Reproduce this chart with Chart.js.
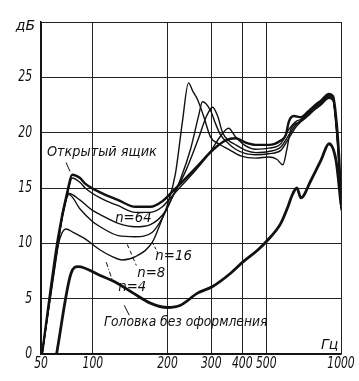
<!DOCTYPE html>
<html>
<head>
<meta charset="utf-8">
<script src="https://cdn.jsdelivr.net/npm/chart.js@4"></script>
<style>body{margin:0;background:#fff}</style>
</head>
<body>
<canvas id="c" width="359" height="381"></canvas>
<script>
// x axis: Hz (log), y axis: dB
const xTickValues = [61.8, 100, 200, 300, 400, 500, 1000];
const xTickLabels = ['50', '100', '200', '300', '400', '500', '1000'];
const yTickValues = [0, 5, 10, 15, 20, 25, 30];
const yTickLabels = ['0', '5', '10', '15', '20', '25', 'дБ'];

// Открытый ящик
const freqOpen = [62.4, 72.4, 79.5, 82.5, 88.8, 93.1, 107.0, 126.6, 148.3, 170.5, 190.6, 205.4, 225.4, 259.3, 306.5, 342.8, 376.2, 412.9, 453.2, 511.6, 571.9, 599.4, 616.4, 645.7, 689.2, 735.6, 778.0, 830.2, 894.4, 928.3, 954.6, 981.6, 1000];
const dbOpen   = [0, 10.5, 15.0, 16.2, 15.9, 15.4, 14.6, 13.9, 13.3, 13.3, 13.8, 14.5, 15.4, 16.8, 18.5, 19.3, 19.5, 19.1, 18.9, 18.9, 19.3, 19.8, 21.0, 21.5, 21.4, 21.9, 22.4, 22.9, 23.5, 23.3, 21.5, 18.0, 14.0];

// n = 64
const freqN64 = [62.4, 72.4, 79.5, 82.5, 88.8, 93.1, 107.0, 126.6, 148.3, 170.5, 190.6, 205.4, 225.4, 259.3, 298.1, 327.2, 352.5, 376.2, 412.9, 453.2, 511.6, 571.9, 616.4, 657.8, 689.2, 735.6, 778.0, 830.2, 894.4, 928.3, 954.6, 981.6, 1000];
const dbN64   = [0, 10.2, 14.7, 15.9, 15.5, 15.0, 14.1, 13.4, 12.8, 12.8, 13.3, 14.1, 15.1, 16.6, 18.3, 19.7, 20.4, 19.6, 18.8, 18.5, 18.6, 19.0, 20.3, 21.0, 21.2, 21.8, 22.3, 22.8, 23.4, 23.2, 21.2, 17.6, 13.6];

// n = 16
const freqN16 = [62.4, 72.4, 75.1, 80.2, 88.8, 99.3, 107.0, 126.6, 148.3, 170.5, 196.0, 209.3, 236.2, 266.6, 287.2, 303.7, 318.2, 333.4, 352.5, 376.2, 412.9, 453.2, 511.6, 571.9, 616.4, 657.8, 689.2, 735.6, 778.0, 830.2, 894.4, 928.3, 954.6, 981.6, 1000];
const dbN16   = [0, 10.0, 12.5, 14.5, 13.9, 13.0, 12.6, 11.8, 11.5, 11.7, 12.9, 14.2, 16.5, 19.5, 21.5, 22.3, 21.5, 20.0, 19.3, 18.9, 18.4, 18.2, 18.3, 18.7, 19.8, 20.7, 21.1, 21.7, 22.2, 22.7, 23.3, 23.1, 21.0, 17.3, 13.4];

// n = 8
const freqN8 = [62.4, 72.4, 75.1, 80.2, 88.8, 99.3, 107.0, 126.6, 148.3, 173.7, 190.6, 205.4, 225.4, 247.5, 266.6, 276.7, 298.1, 312.3, 327.2, 352.5, 376.2, 412.9, 453.2, 511.6, 571.9, 616.4, 657.8, 689.2, 735.6, 778.0, 830.2, 894.4, 928.3, 954.6, 981.6, 1000];
const dbN8   = [0, 9.8, 12.3, 14.4, 13.1, 12.0, 11.5, 10.7, 10.6, 11.0, 12.3, 13.8, 15.8, 18.5, 21.5, 22.8, 22.0, 20.8, 19.8, 19.0, 18.5, 18.1, 18.0, 18.1, 18.4, 19.5, 20.5, 21.0, 21.6, 22.1, 22.6, 23.2, 23.0, 20.8, 17.0, 13.2];

// n = 4
const freqN4 = [62.4, 72.4, 78.0, 83.2, 93.1, 107.0, 119.7, 131.3, 148.3, 173.7, 187.1, 199.8, 215.2, 229.6, 242.9, 252.1, 264.1, 279.3, 298.1, 321.2, 352.5, 394.1, 453.2, 511.6, 551.1, 582.9, 605.0, 628.0, 689.2, 735.6, 778.0, 830.2, 894.4, 928.3, 954.6, 981.6, 1000];
const dbN4   = [0, 9.8, 11.3, 11.0, 10.4, 9.4, 8.8, 8.5, 8.8, 10.1, 11.8, 13.5, 16.3, 21.0, 24.5, 23.8, 23.0, 21.5, 19.6, 19.0, 18.5, 17.9, 17.7, 17.8, 17.6, 17.1, 18.5, 20.3, 21.0, 21.5, 22.0, 22.5, 23.1, 22.9, 20.6, 16.8, 13.0];

// Головка без оформления
const freqBare = [71.4, 81.7, 87.2, 107.0, 125.4, 145.5, 170.5, 199.8, 225.4, 264.1, 303.7, 359, 401.6, 462, 507, 571.9, 611, 634, 664, 689.2, 757, 830.2, 894.4, 954.6, 1000];
const dbBare   = [0, 7.3, 7.9, 7.1, 6.4, 5.5, 4.6, 4.2, 4.4, 5.5, 6.1, 7.3, 8.3, 9.4, 10.3, 11.8, 13.3, 14.3, 15.0, 14.1, 15.7, 17.5, 19.0, 17.5, 13.5];

const FONT = "'DejaVu Sans',sans-serif";
const INK = '#111';

function line(label, f, d, w) {
    return {
        label: label,
        data: f.map((x, i) => ({x: x, y: d[i]})),
        borderColor: INK,
        borderWidth: w,
        pointRadius: 0,
        fill: false,
        cubicInterpolationMode: 'monotone'
    };
}

// narrow italic text like the old print
function narrowText(ctx, text, x, y, squeeze) {
    ctx.save();
    ctx.translate(x, y);
    ctx.scale(squeeze, 1);
    ctx.fillText(text, 0, 0);
    ctx.restore();
}

// tick labels, captions and leader strokes
const notesPlugin = {
    id: 'notes',
    afterDraw(chart) {
        const ctx = chart.ctx, xs = chart.scales.x, ys = chart.scales.y;
        const area = chart.chartArea;
        const px = v => xs.getPixelForValue(v), py = v => ys.getPixelForValue(v);
        ctx.save();
        ctx.fillStyle = INK;
        ctx.textBaseline = 'middle';

        // axis tick labels
        ctx.font = 'italic 15px ' + FONT;
        ctx.textAlign = 'center';
        xs.ticks.forEach((t, i) => narrowText(ctx, xTickLabels[i], xs.getPixelForTick(i), area.bottom + 10, 0.72));
        ctx.textAlign = 'right';
        ys.ticks.forEach((t, i) => {
            const lab = yTickLabels[i];
            if (lab === 'дБ') {
                ctx.font = 'italic 14px ' + FONT;
                narrowText(ctx, lab, area.left - 6, ys.getPixelForTick(i) + 4, 1);
                ctx.font = 'italic 15px ' + FONT;
            } else {
                narrowText(ctx, lab, area.left - 9, ys.getPixelForTick(i), 0.72);
            }
        });

        // captions
        ctx.textAlign = 'left';
        ctx.font = 'italic 14px ' + FONT;
        narrowText(ctx, 'Открытый ящик', px(65.3), py(18.2), 0.92);
        narrowText(ctx, 'n=64', px(123), py(12.3), 0.95);
        narrowText(ctx, 'n=16', px(178.6), py(8.8), 0.95);
        narrowText(ctx, 'n=8', px(151), py(7.3), 0.95);
        narrowText(ctx, 'n=4', px(126.6), py(6.0), 0.95);
        narrowText(ctx, 'Гц', px(830), py(0.8), 1);
        narrowText(ctx, 'Головка без оформления', px(111), py(2.9), 0.88);

        ctx.strokeStyle = INK;
        ctx.lineWidth = 1;
        const seg = (x1, y1, x2, y2, dash) => {
            ctx.setLineDash(dash);
            ctx.beginPath();
            ctx.moveTo(px(x1), py(y1));
            ctx.lineTo(px(x2), py(y2));
            ctx.stroke();
        };
        seg(78.0, 17.3, 80.9, 16.5, []);
        seg(173.7, 10.1, 182, 9.2, [3, 2]);
        seg(137.6, 9.9, 149.7, 8.0, [4, 3]);
        seg(113.2, 8.3, 119.7, 6.7, [5, 2, 1, 2]);
        seg(133.8, 4.4, 140.2, 3.5, []);
        ctx.restore();
    }
};

new Chart(document.getElementById('c'), {
    type: 'line',
    data: {
        datasets: [
            line('Открытый ящик', freqOpen, dbOpen, 2.4),
            line('n=64', freqN64, dbN64, 1.4),
            line('n=16', freqN16, dbN16, 1.4),
            line('n=8', freqN8, dbN8, 1.4),
            line('n=4', freqN4, dbN4, 1.4),
            line('Головка без оформления', freqBare, dbBare, 2.8)
        ]
    },
    options: {
        responsive: false,
        animation: false,
        devicePixelRatio: 1,
        layout: {padding: {top: 22, right: 18, left: 0, bottom: 0}},
        plugins: {legend: {display: false}, tooltip: {enabled: false}},
        scales: {
            x: {
                type: 'logarithmic',
                min: 61.8,
                max: 1000,
                afterBuildTicks: s => { s.ticks = xTickValues.map(v => ({value: v})); },
                afterFit: s => { s.height = 27; },
                grid: {color: '#222', lineWidth: 1, drawTicks: false},
                border: {color: INK, width: 1.5},
                ticks: {display: false}
            },
            y: {
                min: 0,
                max: 30,
                afterBuildTicks: s => { s.ticks = yTickValues.map(v => ({value: v})); },
                afterFit: s => { s.width = 41; },
                grid: {color: '#222', lineWidth: 1, drawTicks: false},
                border: {color: INK, width: 1.5},
                ticks: {display: false}
            }
        }
    },
    plugins: [notesPlugin]
});
</script>
</body>
</html>
